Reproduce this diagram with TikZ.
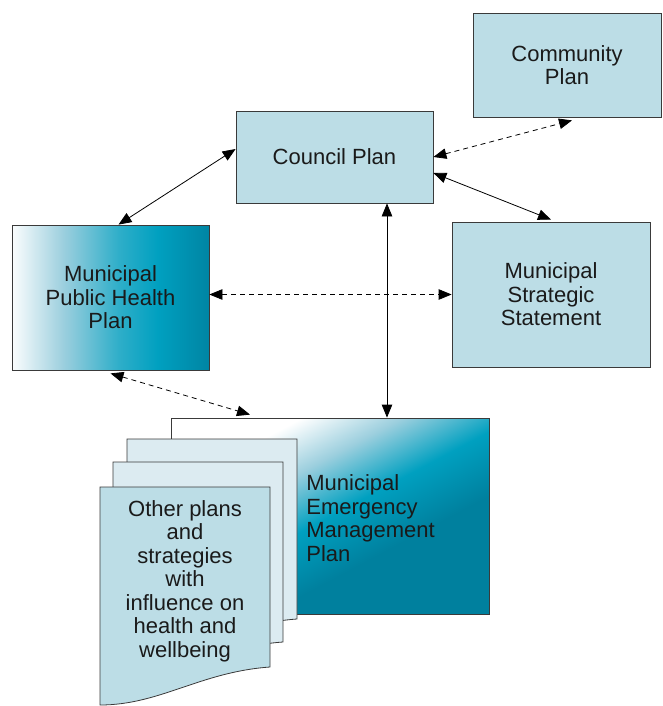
\documentclass[tikz,border=0pt]{standalone}
\usepackage{fontspec}
\setmainfont{Liberation Sans}
\usetikzlibrary{arrows.meta, positioning}

\definecolor{planblue}{HTML}{BCDDE6}
\definecolor{pageblue}{HTML}{DCEBF1}
\definecolor{tealpale}{HTML}{9CCFDE}
\definecolor{tealmid}{HTML}{00A0C0}
\definecolor{tealdark}{HTML}{00809E}
\definecolor{edgegrey}{HTML}{3A3A3A}
\definecolor{inkgrey}{HTML}{1A1A1A}

\pgfdeclarehorizontalshading{healthshade}{100bp}{color(0bp)=(white); color(25bp)=(white!96!tealpale); color(38bp)=(tealpale); color(52bp)=(tealmid!70!tealpale); color(62bp)=(tealmid); color(75bp)=(tealdark!85!tealmid); color(100bp)=(tealdark!85!tealmid)}
\pgfdeclareverticalshading{emshade}{100bp}{color(0bp)=(tealdark); color(38bp)=(tealdark); color(50bp)=(tealmid); color(61bp)=(tealpale); color(71bp)=(white); color(100bp)=(white)}

\begin{document}
\begin{tikzpicture}[x=1pt, y=-1pt,
    plan/.style={draw=edgegrey, line width=0.8pt, fill=planblue, inner sep=0pt,
      align=center, text=inkgrey, font=\fontsize{22}{23.5}\selectfont},
    page/.style={draw=edgegrey, line width=0.8pt},
    link/.style={line width=0.8pt, black, {Triangle[length=13pt,width=10.5pt]}-{Triangle[length=13pt,width=10.5pt]}},
    loose/.style={link, dash pattern=on 5pt off 4pt}]

  \useasboundingbox (0,0) rectangle (662,706);

  \node[plan, minimum width=188pt, minimum height=104pt] (community) at (567,65) {Community\\Plan};
  \node[plan, minimum width=197pt, minimum height=92pt] (council) at (334.5,157) {Council Plan};
  \node[plan, shading=healthshade, minimum width=197pt, minimum height=145pt] (health) at (110.5,297.5) {Municipal\\Public Health\\Plan};
  \node[plan, minimum width=198pt, minimum height=145pt] (strategic) at (551,294.5) {Municipal\\Strategic\\Statement};
  \node[plan, shading=emshade, shading angle=28, minimum width=318pt, minimum height=196pt] (emergency) at (330,516) {};
  \node[plan, draw=none, fill=none, anchor=west, align=left] (emlabel) at (306,518) {Municipal\\Emergency\\Management\\Plan};

  % stack of other plans
  \foreach \sx/\sy/\col in {27/-48/pageblue, 13/-25/pageblue, 0/0/planblue}
    \filldraw[page, fill=\col, shift={(\sx,\sy)}] (100,487) -- (270,487) -- (270,667)
      .. controls (200,672) and (160,705) .. (100,705) -- cycle;
  \node[plan, draw=none, fill=none] (others) at (185,581) {Other plans\\and\\strategies\\with\\influence on\\health and\\wellbeing};

  \path
    ([yshift=8pt]council.west) edge[link] ([xshift=8pt]health.north)
    (council.east) edge[loose] ([shift={(5pt,-3pt)}]community.south)
    ([yshift=-16pt]council.east) edge[link] ([yshift=2pt]strategic.north)
    ([xshift=52.5pt]council.south) edge[link] ([xshift=57pt]emergency.north)
    (health.east |- strategic.west) edge[loose] (strategic.west)
    ([yshift=-3pt]health.south) edge[loose] ([shift={(-80pt,3pt)}]emergency.north);

\end{tikzpicture}
\end{document}
